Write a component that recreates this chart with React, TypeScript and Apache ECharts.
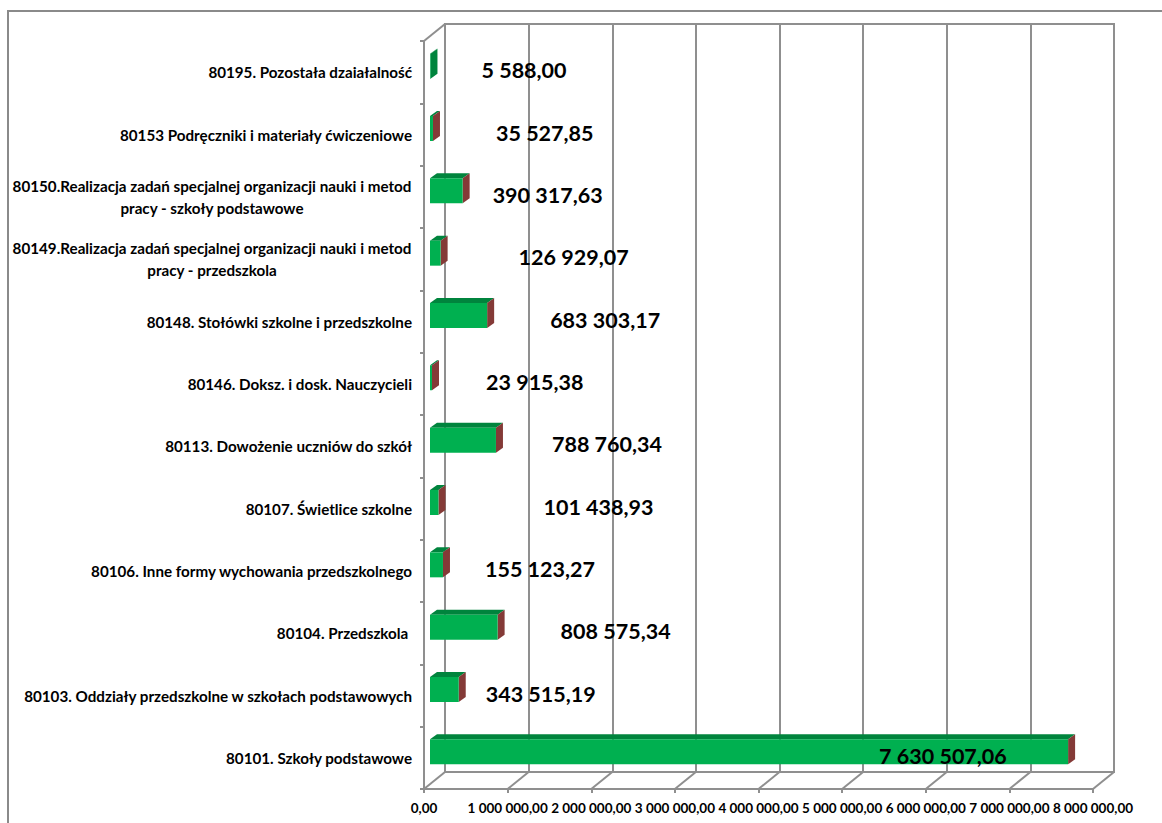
import React, { useEffect, useRef } from "react";
import * as echarts from "echarts";

const categories: string[] = [
  "80195. Pozostała dzaiałalność",
  "80153 Podręczniki i materiały ćwiczeniowe",
  "80150.Realizacja zadań specjalnej organizacji nauki i metod\npracy - szkoły podstawowe",
  "80149.Realizacja zadań specjalnej organizacji nauki i metod\npracy - przedszkola",
  "80148. Stołówki szkolne i przedszkolne",
  "80146. Doksz. i dosk. Nauczycieli",
  "80113. Dowożenie uczniów do szkół",
  "80107. Świetlice szkolne",
  "80106. Inne formy wychowania przedszkolnego",
  "80104. Przedszkola ",
  "80103. Oddziały przedszkolne w szkołach podstawowych",
  "80101. Szkoły podstawowe",
];

const values: number[] = [
  5588.0, 35527.85, 390317.63, 126929.07, 683303.17, 23915.38, 788760.34,
  101438.93, 155123.27, 808575.34, 343515.19, 7630507.06,
];

const xTicks: number[] = [0, 1000000, 2000000, 3000000, 4000000, 5000000, 6000000, 7000000, 8000000];

// layout: horizontal gap between bar end and its value label (px)
const labelGap: number[] = [44, 56, 23, 71, 56, 47, 49, 98, 35, 56, 20, -196];

const DX = 7; // bar depth
const DY = 5;
const SHIFT_X = 6; // bar placed at mid depth
const SHIFT_Y = 6;
const WALL_X = 21; // wall depth
const WALL_Y = 17;
const GRID_COLOR = "#8f8f8f";
const FONT = "Lato, 'Liberation Sans', sans-serif";

function fmt(v: number): string {
  const [i, d] = v.toFixed(2).split(".");
  return i.replace(/\B(?=(\d{3})+(?!\d))/g, " ") + "," + d;
}

export default function App() {
  const ref = useRef<HTMLDivElement>(null);
  useEffect(() => {
    if (!ref.current) return;
    const chart = echarts.init(ref.current, undefined, { renderer: "svg" });
    const gridLeft = 424;
    const gridTop = 41;
    const gridW = 669;
    const gridH = 748;
    chart.setOption({
      animation: false,
      backgroundColor: "#ffffff",
      graphic: [
        {
          type: "rect",
          shape: { x: 8, y: 11, width: 1200, height: 900 },
          style: { fill: "none", stroke: "#8a8a8a", lineWidth: 2 },
          z: -10,
        },
      ],
      grid: [
        { left: gridLeft, top: gridTop, width: gridW, height: gridH, containLabel: false },
        {
          left: gridLeft + WALL_X,
          top: gridTop - WALL_Y,
          width: gridW,
          height: gridH,
          show: true,
          borderColor: GRID_COLOR,
          borderWidth: 2,
          backgroundColor: "transparent",
        },
      ],
      xAxis: [
        {
          type: "value",
          gridIndex: 0,
          min: 0,
          max: 8000000,
          interval: 1000000,
          axisLine: { show: true, lineStyle: { color: GRID_COLOR, width: 2 } },
          axisTick: { show: true, length: 4, lineStyle: { color: GRID_COLOR, width: 2 } },
          splitLine: { show: false },
          axisLabel: {
            formatter: (v: number) => fmt(v),
            fontFamily: FONT,
            fontWeight: "bold",
            fontSize: 13.5,
            color: "#000",
            margin: 12,
          },
        },
        {
          type: "value",
          gridIndex: 1,
          min: 0,
          max: 8000000,
          interval: 1000000,
          axisLine: { show: false },
          axisTick: { show: false },
          axisLabel: { show: false },
          splitLine: { show: true, lineStyle: { color: GRID_COLOR, width: 2 } },
        },
      ],
      yAxis: [
        {
          type: "category",
          gridIndex: 0,
          inverse: true,
          data: categories,
          axisLine: { show: true, lineStyle: { color: GRID_COLOR, width: 2 } },
          axisTick: { show: true, length: 4, lineStyle: { color: GRID_COLOR, width: 2 } },
          axisLabel: {
            margin: 12,
            color: "#000",
            fontFamily: FONT,
            fontWeight: "bold",
            fontSize: 15.2,
            lineHeight: 22,
            formatter: (v: string) =>
              v.includes("\n")
                ? v
                    .split("\n")
                    .map((l) => `{c|${l}}`)
                    .join("\n")
                : v,
            rich: {
              c: {
                width: 400,
                align: "center",
                color: "#000",
                fontFamily: FONT,
                fontWeight: "bold",
                fontSize: 15.2,
                lineHeight: 22,
              },
            },
          },
        },
        {
          type: "category",
          gridIndex: 1,
          inverse: true,
          data: categories,
          show: false,
        },
      ],
      series: [
        {
          type: "custom",
          xAxisIndex: 0,
          yAxisIndex: 0,
          data: xTicks.map((t) => [t]),
          renderItem: (params: any, api: any) => {
            const cs = params.coordSys;
            const x = api.coord([api.value(0), 0])[0];
            const yb = cs.y + cs.height;
            const children: any[] = [
              {
                type: "line",
                shape: { x1: x, y1: yb, x2: x + WALL_X, y2: yb - WALL_Y },
                style: { stroke: GRID_COLOR, lineWidth: 2 },
              },
            ];
            if (params.dataIndex === 0) {
              children.push({
                type: "line",
                shape: { x1: cs.x, y1: cs.y, x2: cs.x + WALL_X, y2: cs.y - WALL_Y },
                style: { stroke: GRID_COLOR, lineWidth: 2 },
              });
            }
            return { type: "group", children };
          },
          z: 1,
        },
        {
          type: "custom",
          xAxisIndex: 0,
          yAxisIndex: 0,
          data: values.map((v, i) => [v, i]),
          renderItem: (params: any, api: any) => {
            const v = api.value(0);
            const i = api.value(1);
            const p0 = api.coord([0, i]);
            const p1 = api.coord([v, i]);
            const x0 = p0[0] + SHIFT_X;
            const x1 = p1[0] + SHIFT_X;
            const yc = p0[1] - SHIFT_Y;
            const h = 25;
            const yt = yc - h / 2;
            const yb = yc + h / 2;
            const idx = params.dataIndex;
            return {
              type: "group",
              children: [
                {
                  type: "polygon",
                  shape: {
                    points: [
                      [x0, yt],
                      [x1, yt],
                      [x1 + DX, yt - DY],
                      [x0 + DX, yt - DY],
                    ],
                  },
                  style: { fill: "#00843d" },
                },
                {
                  type: "polygon",
                  shape: {
                    points: [
                      [x1, yt],
                      [x1 + DX, yt - DY],
                      [x1 + DX, yb - DY],
                      [x1, yb],
                    ],
                  },
                  style: { fill: idx === 0 ? "#00843d" : "#843a37" },
                },
                {
                  type: "rect",
                  shape: { x: x0, y: yt, width: Math.max(x1 - x0, 0.5), height: h },
                  style: { fill: "#00b050" },
                },
                {
                  type: "text",
                  x: x1 + DX + labelGap[idx],
                  y: p0[1] - 2,
                  style: {
                    text: fmt(v),
                    fontFamily: FONT,
                    fontWeight: "bold",
                    fontSize: 21.5,
                    fill: "#000",
                    align: "left",
                    verticalAlign: "middle",
                  },
                },
              ],
            };
          },
          z: 5,
        },
      ],
    });
    return () => chart.dispose();
  }, []);
  return (
    <div
      ref={ref}
      style={{ position: "fixed", left: 0, top: 0, width: 1162, height: 823 }}
    />
  );
}
